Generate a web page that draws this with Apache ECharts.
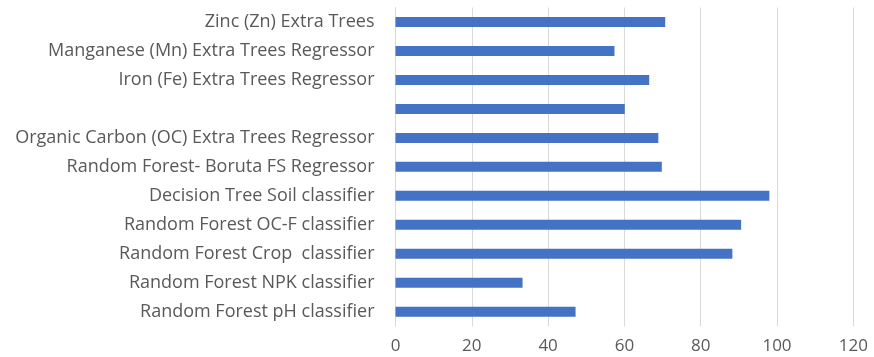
<!DOCTYPE html>
<html>
<head>
<meta charset="utf-8">
<script src="https://cdn.jsdelivr.net/npm/echarts@6/dist/echarts.min.js"></script>
<style>
  html, body { margin: 0; padding: 0; background: #fff; }
  #chart { width: 874px; height: 357px; }
</style>
</head>
<body>
<div id="chart"></div>
<script>
// Model names, listed bottom to top as they appear on the category axis
const models = [
  'Random Forest pH classifier',
  'Random Forest NPK classifier',
  'Random Forest Crop  classifier',
  'Random Forest OC-F classifier',
  'Decision Tree Soil classifier',
  'Random Forest- Boruta FS Regressor',
  'Organic Carbon (OC) Extra Trees Regressor',
  '',
  'Iron (Fe) Extra Trees Regressor',
  'Manganese (Mn) Extra Trees Regressor',
  'Zinc (Zn) Extra Trees'
];

// Score of each model
const scores = [47.2, 33.3, 88.3, 90.6, 98.0, 69.8, 68.9, 60.1, 66.5, 57.4, 70.7];

// Value axis ticks
const xTicks = [0, 20, 40, 60, 80, 100, 120];

const chart = echarts.init(document.getElementById('chart'), null, { renderer: 'canvas' });

const labelFont = '"Open Sans", sans-serif';

chart.setOption({
  animation: false,
  grid: { left: 395.5, right: 20.7, top: 7.5, bottom: 30.8, containLabel: false },
  xAxis: {
    type: 'value',
    min: xTicks[0],
    max: xTicks[xTicks.length - 1],
    interval: xTicks[1] - xTicks[0],
    axisLine: { show: false },
    axisTick: { show: false },
    splitLine: { show: true, lineStyle: { color: '#d9d9d9', width: 1 } },
    axisLabel: { color: '#595959', fontSize: 17, fontFamily: labelFont, margin: 11 }
  },
  yAxis: {
    type: 'category',
    data: models,
    axisLine: { show: true, lineStyle: { color: '#d9d9d9', width: 1 } },
    axisTick: { show: false },
    splitLine: { show: false },
    axisLabel: { color: '#595959', fontSize: 18, fontFamily: labelFont, margin: 21 }
  },
  series: [{
    type: 'bar',
    data: scores,
    barWidth: 10,
    itemStyle: { color: '#4472c4' }
  }]
});
</script>
</body>
</html>
